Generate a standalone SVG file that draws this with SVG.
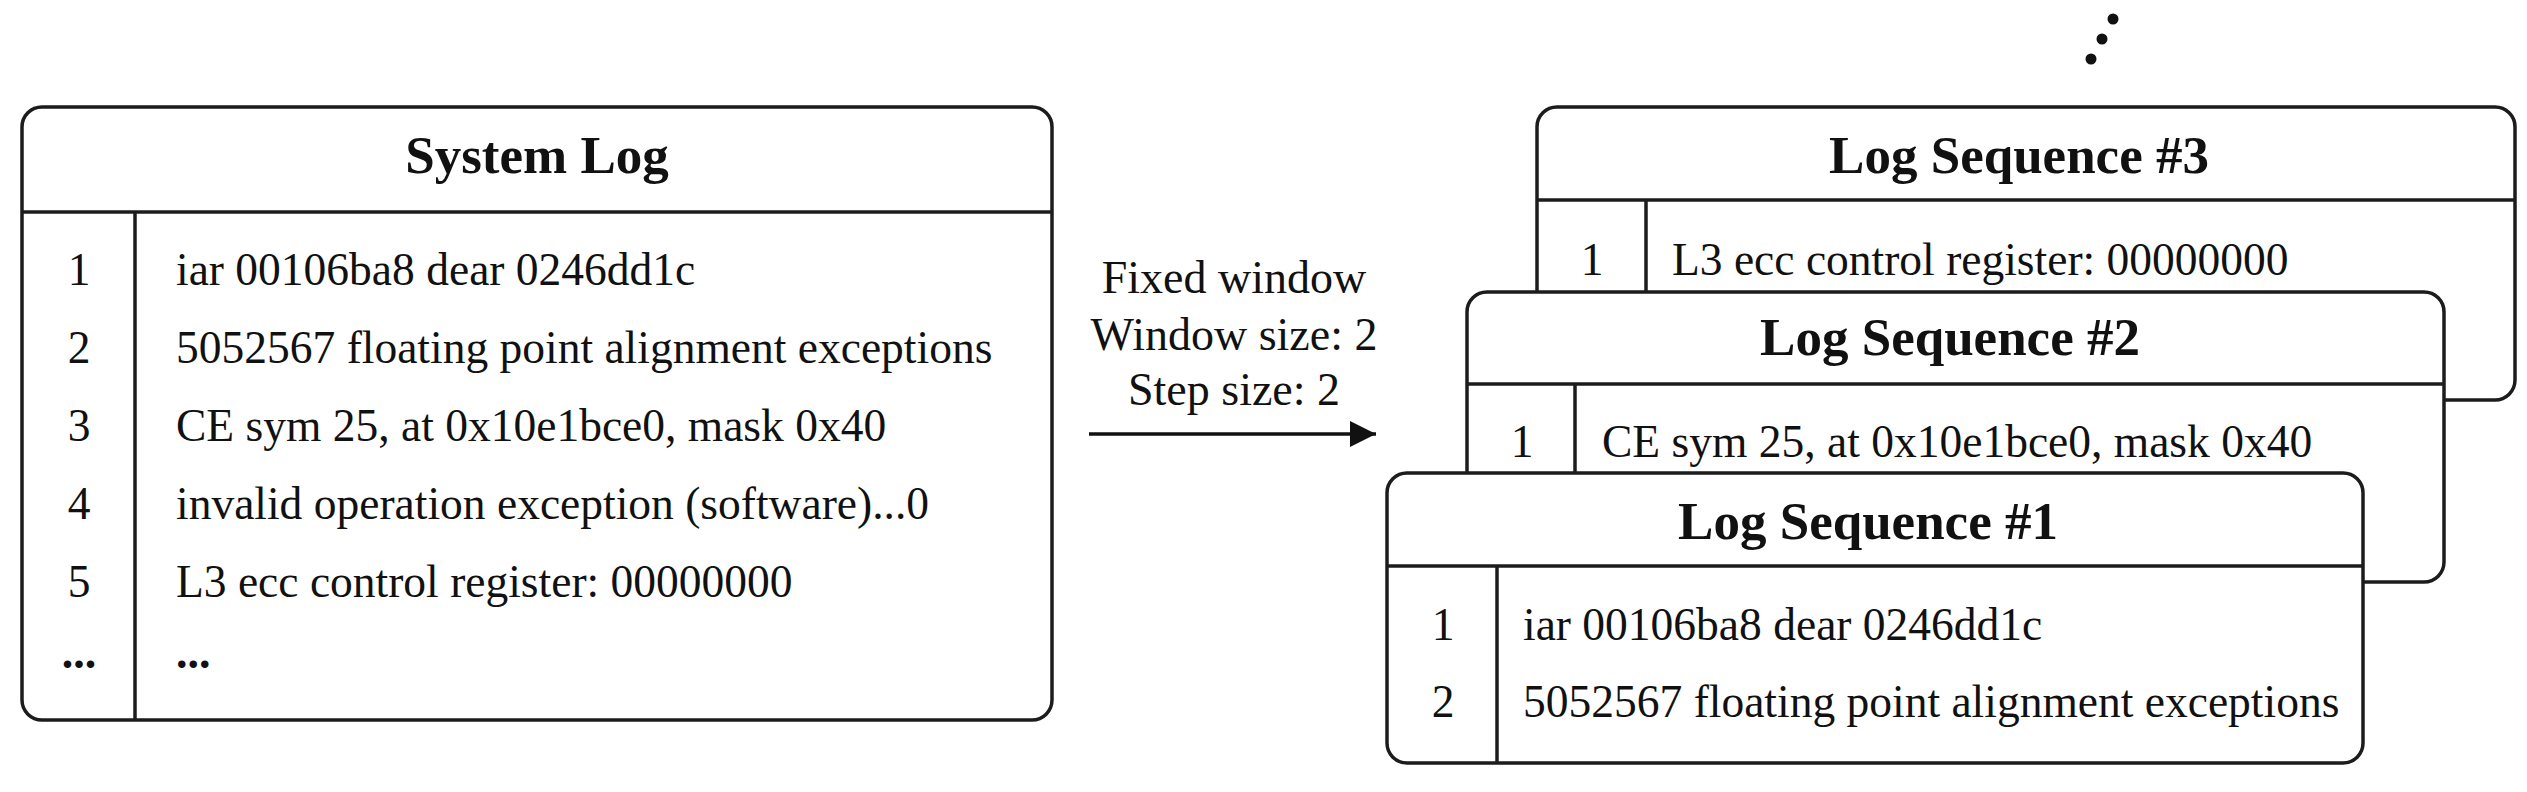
<svg xmlns="http://www.w3.org/2000/svg" width="2527" height="792" viewBox="0 0 2527 792">
<defs>
<style>
.box{fill:#fff;stroke:#1c1c1c;stroke-width:3.5}
.ln{stroke:#1c1c1c;stroke-width:3.5;fill:none}
.title{font-family:"Liberation Serif","Times New Roman",serif;font-weight:bold;font-size:53px;fill:#111;text-anchor:middle}
.txt{font-family:"Liberation Serif","Times New Roman",serif;font-size:45.5px;fill:#111}
.num{font-family:"Liberation Serif","Times New Roman",serif;font-size:45.5px;fill:#111;text-anchor:middle}
.dots{font-family:"Liberation Serif","Times New Roman",serif;font-weight:bold;font-size:46px;fill:#111}
.lbl{font-family:"Liberation Serif","Times New Roman",serif;font-size:46px;fill:#111;text-anchor:middle}
.dot{fill:#111}
</style>
<marker id="arrbig" markerWidth="26" markerHeight="26" refX="26" refY="13" orient="auto" markerUnits="userSpaceOnUse" viewBox="0 0 26 26">
<path d="M0,0 L26,13 L0,26 Z" fill="#111"/>
</marker>
</defs>
<rect width="2527" height="792" fill="#fff"/>

<g id="system-log">
<rect class="box" x="22" y="107" width="1030" height="613" rx="20" ry="20"/>
<line class="ln" x1="22" y1="212" x2="1052" y2="212"/>
<line class="ln" x1="135" y1="212" x2="135" y2="720"/>
<text class="title" x="537" y="173">System Log</text>
<text class="num" x="79" y="285">1</text>
<text class="num" x="79" y="363">2</text>
<text class="num" x="79" y="441">3</text>
<text class="num" x="79" y="519">4</text>
<text class="num" x="79" y="597">5</text>
<text class="dots" x="79" y="668" text-anchor="middle">...</text>
<text class="txt" x="176" y="285">iar 00106ba8 dear 0246dd1c</text>
<text class="txt" x="176" y="363">5052567 floating point alignment exceptions</text>
<text class="txt" x="176" y="441">CE sym 25, at 0x10e1bce0, mask 0x40</text>
<text class="txt" x="176" y="519">invalid operation exception (software)...0</text>
<text class="txt" x="176" y="597">L3 ecc control register: 00000000</text>
<text class="dots" x="176" y="668">...</text>
</g>

<g id="connectors">
<line x1="1089" y1="434" x2="1376" y2="434" stroke="#111" stroke-width="3.5" marker-end="url(#arrbig)"/>
</g>

<g id="arrow-label">
<text class="lbl" x="1234" y="293">Fixed window</text>
<text class="lbl" x="1234" y="350">Window size: 2</text>
<text class="lbl" x="1234" y="405">Step size: 2</text>
</g>

<g id="more-dots">
<circle class="dot" cx="2113" cy="19" r="5.5"/>
<circle class="dot" cx="2102" cy="39" r="5.5"/>
<circle class="dot" cx="2091" cy="59" r="5.5"/>
</g>

<g id="log-sequence-3">
<rect class="box" x="1537" y="107" width="978" height="293" rx="20" ry="20"/>
<line class="ln" x1="1537" y1="200" x2="2515" y2="200"/>
<line class="ln" x1="1646" y1="200" x2="1646" y2="400"/>
<text class="title" x="2019" y="173">Log Sequence #3</text>
<text class="num" x="1592" y="275">1</text>
<text class="txt" x="1672" y="275">L3 ecc control register: 00000000</text>
</g>

<g id="log-sequence-2">
<rect class="box" x="1467" y="292" width="977" height="290" rx="20" ry="20"/>
<line class="ln" x1="1467" y1="384" x2="2444" y2="384"/>
<line class="ln" x1="1575" y1="384" x2="1575" y2="582"/>
<text class="title" x="1950" y="355">Log Sequence #2</text>
<text class="num" x="1522" y="457">1</text>
<text class="txt" x="1602" y="457">CE sym 25, at 0x10e1bce0, mask 0x40</text>
</g>

<g id="log-sequence-1">
<rect class="box" x="1387" y="473" width="976" height="290" rx="20" ry="20"/>
<line class="ln" x1="1387" y1="566" x2="2363" y2="566"/>
<line class="ln" x1="1497" y1="566" x2="1497" y2="763"/>
<text class="title" x="1868" y="539">Log Sequence #1</text>
<text class="num" x="1443" y="640">1</text>
<text class="num" x="1443" y="717">2</text>
<text class="txt" x="1523" y="640">iar 00106ba8 dear 0246dd1c</text>
<text class="txt" x="1523" y="717">5052567 floating point alignment exceptions</text>
</g>
</svg>
